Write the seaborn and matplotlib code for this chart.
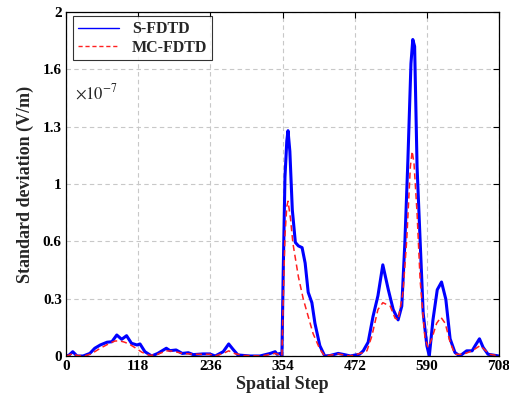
import numpy as np
import pandas as pd
import matplotlib
matplotlib.use("Agg")
import matplotlib.pyplot as plt
from matplotlib.lines import Line2D
import seaborn as sns

# data (values in units of 1e-7 V/m)
s_step = [0, 5, 11, 18, 28, 39, 47, 56, 67, 75, 83, 91, 99, 107, 116, 121, 129, 140,
          150, 164, 170, 180, 190, 200, 208, 224, 235, 244, 257, 266, 273, 281, 301,
          317, 334, 342, 345, 350, 353, 355, 358, 361, 363, 366, 370, 375, 380, 386,
          391, 396, 402, 407, 415, 423, 432, 445, 455, 465, 472, 480, 486, 494, 502,
          510, 518, 527, 535, 543, 549, 554, 559, 564, 567, 570, 574, 579, 584, 590,
          594, 600, 607, 614, 621, 628, 636, 644, 655, 664, 669, 676, 682, 690, 708]
s_std = [0, 0.005, 0.025, 0.0, 0.0, 0.015, 0.045, 0.064, 0.08, 0.083, 0.122, 0.097,
         0.118, 0.074, 0.064, 0.07, 0.025, 0.0, 0.015, 0.045, 0.031, 0.035, 0.015,
         0.019, 0.008, 0.012, 0.012, 0.0, 0.025, 0.07, 0.039, 0.006, 0.0, 0.0, 0.015,
         0.025, 0.01, 0.015, 0.0, 0.46, 1.04, 1.25, 1.31, 1.19, 0.85, 0.66, 0.64, 0.63,
         0.54, 0.37, 0.31, 0.19, 0.06, 0.0, 0.003, 0.015, 0.008, 0.0, 0.005, 0.01, 0.03,
         0.08, 0.23, 0.35, 0.53, 0.385, 0.27, 0.21, 0.29, 0.655, 1.14, 1.7, 1.84, 1.8,
         1.1, 0.67, 0.25, 0.06, 0.0, 0.21, 0.385, 0.43, 0.33, 0.1, 0.02, 0.0, 0.03,
         0.03, 0.06, 0.1, 0.05, 0.01, 0.0]

mc_step = [0, 5, 11, 18, 30, 39, 47, 56, 64, 72, 80, 88, 96, 104, 113, 124, 137, 150,
           164, 175, 190, 210, 235, 244, 257, 266, 275, 290, 320, 342, 350, 353, 355,
           358, 361, 363, 367, 371, 380, 388, 396, 404, 415, 423, 445, 465, 486, 492,
           500, 510, 518, 530, 538, 543, 551, 557, 563, 566, 569, 574, 579, 587, 592,
           598, 606, 613, 620, 628, 636, 650, 664, 677, 693, 708]
mc_std = [0, 0.005, 0.015, 0.003, 0.0, 0.01, 0.025, 0.045, 0.06, 0.075, 0.087, 0.088,
          0.08, 0.068, 0.048, 0.022, 0.003, 0.01, 0.03, 0.028, 0.015, 0.01, 0.01, 0.0,
          0.015, 0.03, 0.015, 0.003, 0.0, 0.015, 0.005, 0.0, 0.3, 0.7, 0.87, 0.9, 0.8,
          0.655, 0.46, 0.33, 0.23, 0.13, 0.04, 0.0, 0.012, 0.0, 0.02, 0.03, 0.115, 0.27,
          0.31, 0.29, 0.22, 0.21, 0.37, 0.67, 1.1, 1.19, 1.12, 0.83, 0.44, 0.1, 0.05,
          0.1, 0.19, 0.225, 0.19, 0.08, 0.01, 0.01, 0.03, 0.06, 0.01, 0.0]

x_ticks = [0, 118, 236, 354, 472, 590, 708]
y_tick_labels = ["0", "0.3", "0.6", "1", "1.3", "1.6", "2"]

s_df = pd.DataFrame({"step": s_step, "std": s_std})
mc_df = pd.DataFrame({"step": mc_step, "std": mc_std})

sns.set_style("white")
plt.rcParams["font.family"] = ["Liberation Serif", "DejaVu Serif"]
plt.rcParams["mathtext.fontset"] = "stix"

fig = plt.figure(figsize=(5.09, 4.09), dpi=100)
ax = fig.add_axes([0.1297, 0.1296, 0.8507, 0.8411])

sns.lineplot(data=s_df, x="step", y="std", ax=ax, color="#0000ff", linewidth=2.2)
sns.lineplot(data=mc_df, x="step", y="std", ax=ax, color="#ff2020", linewidth=1.1,
             linestyle=(0, (4, 2.5)))

ax.set_xlim(0, 708)
ax.set_ylim(0, 2)
ax.set_xticks(x_ticks)
ax.set_xticklabels([str(t) for t in x_ticks], fontsize=11, fontweight="bold")
ax.set_yticks(np.linspace(0, 2, 7))
ax.set_yticklabels(y_tick_labels, fontsize=11, fontweight="bold")
ax.tick_params(direction="in", length=4, width=0.8, top=True, right=True, pad=3,
               colors="black")
ax.grid(True, color="#c8c8c8", linestyle=(0, (4, 3)), linewidth=0.8)
for sp in ax.spines.values():
    sp.set_color("black")
    sp.set_linewidth(0.9)

ax.set_xlabel("Spatial Step", fontsize=13, fontweight="bold", labelpad=2)
ax.set_ylabel("Standard deviation (V/m)", fontsize=13, fontweight="bold", labelpad=6)
ax.text(0.021, 0.765, r"$\times10^{-7}$", transform=ax.transAxes, fontsize=12,
        ha="left", va="center")

handles = [Line2D([], [], color="#0000ff", linewidth=1.0),
           Line2D([], [], color="#ff2020", linewidth=1.0, linestyle=(0, (3, 2)))]
leg = ax.legend(handles, ["S-FDTD", "MC-FDTD"], loc="upper left",
                bbox_to_anchor=(0.016, 0.987), prop={"weight": "bold", "size": 11.5},
                frameon=True, fancybox=False, handlelength=2.6, borderpad=0.3,
                labelspacing=0.15, handletextpad=0.8, borderaxespad=0)
leg.get_frame().set_edgecolor("black")
leg.get_frame().set_linewidth(0.8)

fig.savefig("out.png", dpi=100)
